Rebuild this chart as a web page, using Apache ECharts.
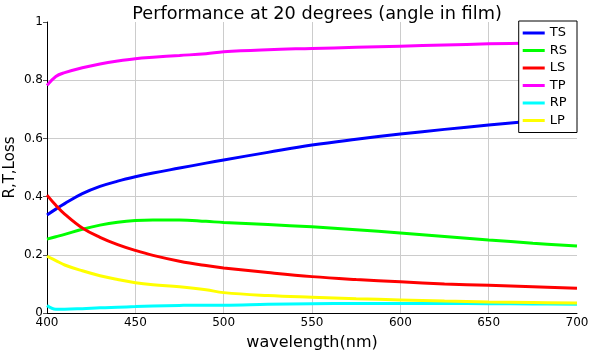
<!DOCTYPE html>
<html>
<head>
<meta charset="utf-8">
<script src="https://cdn.jsdelivr.net/npm/echarts@6/dist/echarts.min.js"></script>
<style>
  html, body { margin: 0; padding: 0; background: #fff; }
  #chart { width: 593px; height: 353px; }
</style>
</head>
<body>
<div id="chart"></div>
<script>
// wavelengths (nm)
const wavelengths = [400, 405, 410, 420, 430, 440, 450, 460, 475, 490, 500, 525, 550, 575, 600, 625, 650, 675, 700]

const TS = [0.337, 0.357, 0.376, 0.41, 0.435, 0.453, 0.468, 0.481, 0.498, 0.515, 0.526, 0.552, 0.577, 0.597, 0.615, 0.631, 0.646, 0.66, 0.672]
const RS = [0.254, 0.262, 0.27, 0.288, 0.302, 0.312, 0.318, 0.32, 0.32, 0.315, 0.311, 0.304, 0.296, 0.286, 0.275, 0.263, 0.251, 0.24, 0.23]
const LS = [0.405, 0.37, 0.34, 0.292, 0.26, 0.235, 0.215, 0.198, 0.178, 0.163, 0.155, 0.139, 0.125, 0.115, 0.107, 0.1, 0.095, 0.09, 0.085]
const TP = [0.782, 0.813, 0.826, 0.843, 0.856, 0.866, 0.874, 0.879, 0.885, 0.891, 0.898, 0.905, 0.909, 0.913, 0.917, 0.921, 0.925, 0.928, 0.932]
const RP = [0.026, 0.013, 0.013, 0.015, 0.018, 0.02, 0.022, 0.024, 0.026, 0.027, 0.027, 0.03, 0.032, 0.033, 0.033, 0.033, 0.032, 0.031, 0.03]
const LP = [0.195, 0.18, 0.165, 0.145, 0.128, 0.115, 0.104, 0.097, 0.09, 0.08, 0.07, 0.06, 0.054, 0.049, 0.045, 0.041, 0.038, 0.036, 0.034]

const seriesNames = ['TS', 'RS', 'LS', 'TP', 'RP', 'LP']
const seriesValues = [TS, RS, LS, TP, RP, LP]
const seriesColors = ['#0000ff', '#00ff00', '#ff0000', '#ff00ff', '#00ffff', '#ffff00']

const font = 'DejaVu Sans'

const chart = echarts.init(document.getElementById('chart'))

// 各曲线
const series = seriesNames.map((name, i) => ({
  name: name,
  type: 'line',
  smooth: 0.4,
  showSymbol: false,
  data: wavelengths.map((w, j) => [w, seriesValues[i][j]]),
  lineStyle: { color: seriesColors[i], width: 3 },
  itemStyle: { color: seriesColors[i] }
}))

chart.setOption({
  animation: false,
  textStyle: { fontFamily: font },
  title: {
    text: 'Performance at 20 degrees (angle in film)',
    left: 312,
    top: 0,
    textAlign: 'center',
    textStyle: { fontFamily: font, fontSize: 17.7, fontWeight: 'normal', color: '#000' }
  },
  legend: {
    orient: 'vertical',
    right: 16,
    top: 21,
    padding: [5, 10, 5, 4],
    itemWidth: 22,
    itemHeight: 3,
    itemGap: 3.5,
    icon: 'rect',
    borderColor: '#000',
    borderWidth: 1,
    backgroundColor: '#fff',
    textStyle: { fontFamily: font, fontSize: 13, color: '#000', lineHeight: 14 }
  },
  grid: {
    left: 47,
    right: 16,
    top: 22,
    bottom: 40,
    outerBoundsMode: 'none'
  },
  xAxis: {
    type: 'value',
    min: 400,
    max: 700,
    interval: 50,
    name: 'wavelength(nm)',
    nameLocation: 'middle',
    nameGap: 22,
    nameMoveOverlap: false,
    nameTextStyle: { fontFamily: font, fontSize: 16, color: '#000' },
    axisLine: { lineStyle: { color: '#000', width: 1 } },
    axisTick: { show: false },
    axisLabel: { fontFamily: font, fontSize: 12, color: '#000', margin: 4 },
    splitLine: { showMaxLine: false, lineStyle: { color: '#cccccc', width: 1 } }
  },
  yAxis: {
    type: 'value',
    min: 0,
    max: 1,
    interval: 0.2,
    name: 'R,T,Loss',
    nameLocation: 'middle',
    nameGap: 29,
    nameMoveOverlap: false,
    nameTextStyle: { fontFamily: font, fontSize: 15, color: '#000' },
    axisLine: { show: true, lineStyle: { color: '#000', width: 1 } },
    axisTick: { show: true, length: 4, lineStyle: { color: '#555' } },
    axisLabel: { fontFamily: font, fontSize: 12, color: '#000', margin: 4 },
    splitLine: { showMaxLine: false, lineStyle: { color: '#cccccc', width: 1 } }
  },
  series
})
</script>
</body>
</html>
